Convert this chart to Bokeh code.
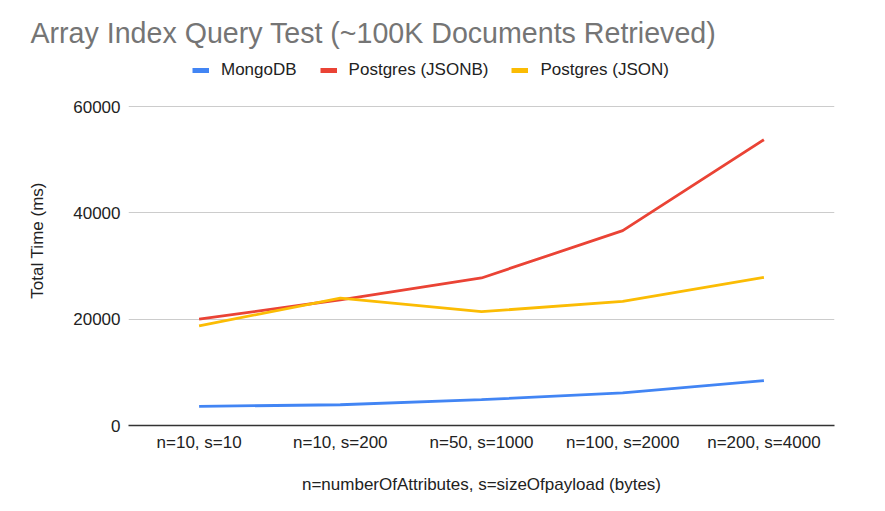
from bokeh.plotting import figure
from bokeh.models import FactorRange, Range1d, FixedTicker, Legend, LegendItem, Title
from bokeh.embed import file_html
from bokeh.resources import INLINE

categories = ["n=10, s=10", "n=10, s=200", "n=50, s=1000", "n=100, s=2000", "n=200, s=4000"]
mongodb = [3600, 3900, 4850, 6150, 8450]
pg_jsonb = [20000, 23650, 27750, 36650, 53750]
pg_json = [18750, 23950, 21400, 23350, 27850]
y_ticks = [0, 20000, 40000, 60000]
series_names = ["MongoDB", "Postgres (JSONB)", "Postgres (JSON)"]
colors = ["#4285F4", "#EA4335", "#FBBC04"]

FONT = "Liberation Sans"

# frame extends above the 60000 gridline so the legend can sit inside it
FRAME_TOP, GRID_TOP, FRAME_BOTTOM = 55, 106, 425
y_end = 60000 * (FRAME_BOTTOM - FRAME_TOP) / (FRAME_BOTTOM - GRID_TOP)

p = figure(width=885, height=511, x_range=FactorRange(*categories), y_range=Range1d(0, y_end),
           output_backend="svg", toolbar_location=None, title=None,
           min_border_left=128, min_border_right=51, min_border_top=FRAME_TOP,
           min_border_bottom=511 - FRAME_BOTTOM)
p.outline_line_color = None

for vals, col in zip([mongodb, pg_jsonb, pg_json], colors):
    p.line(categories, vals, line_color=col, line_width=2.8)

# legend swatches (legend only: a single undefined point draws nothing in the plot)
items = []
for name, col in zip(series_names, colors):
    sw = p.line(x=[categories[0]], y=[float("nan")], line_color=col, line_width=5)
    items.append(LegendItem(label=name, renderers=[sw]))

legend = Legend(items=items, orientation="horizontal", location=(64, FRAME_BOTTOM - 80),
                margin=0, padding=0, border_line_color=None, background_fill_alpha=0,
                glyph_width=17, glyph_height=18, label_standoff=12, spacing=23,
                label_text_font=FONT, label_text_font_size="17px", label_text_color="#222222",
                label_height=18)
p.add_layout(legend, "center")

t = Title(text="Array Index Query Test (~100K Documents Retrieved)", align="left",
          text_font=FONT, text_font_size="28.6px", text_font_style="normal",
          text_color="#757575", offset=-98, standoff=14)
p.add_layout(t, "above")

p.xaxis.axis_line_color = "#333333"
p.xaxis.axis_line_width = 1.5
p.xaxis.major_tick_line_color = None
p.xaxis.minor_tick_line_color = None
p.xaxis.major_label_text_font = FONT
p.xaxis.major_label_text_font_size = "17px"
p.xaxis.major_label_text_color = "#222222"
p.xaxis.major_label_standoff = 1
p.xaxis.axis_label = "n=numberOfAttributes, s=sizeOfpayload (bytes)"
p.xaxis.axis_label_text_font = FONT
p.xaxis.axis_label_text_font_size = "17px"
p.xaxis.axis_label_text_font_style = "normal"
p.xaxis.axis_label_text_color = "#222222"
p.xaxis.axis_label_standoff = 20

p.yaxis.ticker = FixedTicker(ticks=y_ticks)
p.yaxis.axis_line_color = None
p.yaxis.major_tick_line_color = None
p.yaxis.minor_tick_line_color = None
p.yaxis.major_label_text_font = FONT
p.yaxis.major_label_text_font_size = "17px"
p.yaxis.major_label_text_color = "#222222"
p.yaxis.major_label_standoff = 2
p.yaxis.axis_label = "Total Time (ms)"
p.yaxis.axis_label_text_font = FONT
p.yaxis.axis_label_text_font_size = "17px"
p.yaxis.axis_label_text_font_style = "normal"
p.yaxis.axis_label_text_color = "#222222"
p.yaxis.axis_label_standoff = 23

p.xgrid.grid_line_color = None
p.ygrid.grid_line_color = "#cccccc"
p.ygrid.grid_line_width = 1

open("out.html", "w").write(file_html(p, INLINE))
